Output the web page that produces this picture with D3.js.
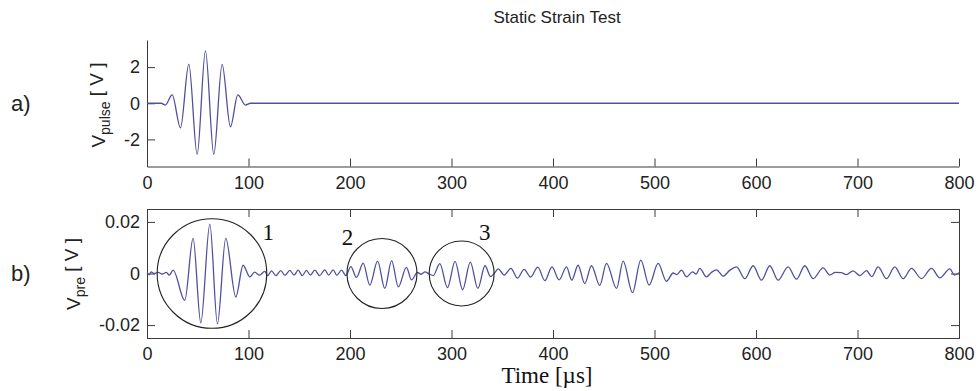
<!DOCTYPE html>
<html>
<head>
<meta charset="utf-8">
<script src="https://cdn.jsdelivr.net/npm/d3@7"></script>
<style>
  html, body { margin: 0; padding: 0; background: #fff; }
  svg { display: block; }
</style>
</head>
<body>
<div id="chart"></div>
<script>
// values
const timeTicks = [0, 100, 200, 300, 400, 500, 600, 700, 800];
const pulseTicks = [-2, 0, 2];
const preTicks = [-0.02, 0, 0.02];

// a) excitation pulse: extrema of the tone burst, time in µs, volts
const pulseTime = [0, 14, 18, 24.8, 33, 41.2, 49.4, 57.6, 65.8, 74, 82.2, 89.5, 97, 102, 800];
const pulseVolt = [0, 0, -0.1, 0.46, -1.36, 2.17, -2.83, 2.9, -2.83, 2.15, -1.3, 0.46, -0.1, 0, 0];

// b) preamplifier signal: extrema
const preTime = [
  0, 2, 4, 7, 11, 15, 19, 22, 25.7, 37.2, 45.4, 53, 61.9, 69.4, 77.6, 87.5, 94.7, 101.3,
  106, 111, 116, 119, 122.6, 127, 131.8, 136, 140.7, 145, 148.9, 153, 157.1, 161, 165.3,
  170, 175.2, 179, 183.4, 187, 191.6,
  196, 200.8, 206.4, 213, 219.5, 227.2, 234.3, 241, 247.6, 255.6, 260.6, 266.5, 270, 274, 278,
  282, 288.5, 296, 303.5, 311, 318.5, 326, 333, 338.5, 342.6,
  346, 352, 358.5, 365, 371.5, 378, 385, 392, 399, 406,
  413.3, 418.5, 424.7, 431.3, 437.9, 446.1, 452.7, 462.6, 469.1, 478.3, 486.5, 494.7, 503.6, 511.8,
  518.4, 522, 526.6, 531.5, 537.5, 541, 544.6, 551.2, 556, 561.1, 567.6, 574,
  580.8, 589, 597.2, 605.4, 613.6, 621.8, 631.6, 639.9, 648.1, 656.3, 666.1, 672.7,
  678, 684, 689, 695.7, 702.3, 708.9, 714,
  720.3, 728.6, 736.7, 745, 753.2, 763, 772.9, 781.1, 791, 795.5, 800
];
const preVolt = [
  0.0003, -0.0005, 0.0006, 0, 0.0004, -0.0002, 0.0004, -0.0006, 0.0013, -0.0104, 0.0136, -0.0191, 0.0191, -0.0195, 0.0136, -0.0091, 0.0032, -0.0013,
  0.0005, -0.0006, 0.0008, -0.0008, 0.001, -0.0008, 0.0011, -0.0007, 0.0012, -0.0006, 0.0013, -0.0008, 0.0012, -0.0006, 0.0013,
  -0.0008, 0.0014, -0.0006, 0.0014, -0.0007, 0.0013,
  -0.0008, 0.0027, -0.0015, 0.004, -0.0045, 0.0048, -0.0058, 0.005, -0.0052, 0.0024, -0.0025, 0.0004, -0.0003, 0.0006, -0.0002,
  -0.0008, 0.0038, -0.0055, 0.0047, -0.0063, 0.0044, -0.0058, 0.003, -0.0012, 0.0003,
  0.0018, -0.0006, 0.002, -0.0018, 0.0016, -0.0014, 0.0025, -0.0028, 0.0026, -0.0025,
  0.0026, -0.0026, 0.0032, -0.0039, 0.003, -0.0046, 0.0039, -0.0058, 0.0048, -0.0074, 0.0052, -0.0045, 0.0039, -0.003,
  0.0002, -0.0004, 0.0013, -0.0013, 0.0006, -0.0002, 0.002, -0.0013, 0.0004, 0.0014, -0.001, 0.0012,
  0.0026, -0.002, 0.003, -0.0026, 0.003, -0.0026, 0.0026, -0.0022, 0.003, -0.002, 0.0022, -0.0006,
  0.0004, 0.0003, -0.0004, 0.001, -0.0008, 0.0011, -0.0012,
  0.0026, -0.002, 0.0026, -0.002, 0.002, -0.002, 0.002, -0.0017, 0.0018, -0.0006, 0.0003
];

// circled wave packets: time span of each circle (µs) and its label
const circleStart = [10, 197, 278];
const circleEnd = [118, 266, 342];
const circleLabels = ['1', '2', '3'];

const width = 979, height = 391;
const lineColor = '#50509e';
const axisColor = '#3a3a3a';
const sans = 'Liberation Sans, Arial, sans-serif';
const serif = 'Liberation Serif, Times New Roman, serif';

const svg = d3.select('#chart').append('svg')
  .attr('width', width)
  .attr('height', height);

const x = d3.scaleLinear().domain([0, 800]).range([147, 959]);
const yPulse = d3.scaleLinear().domain([-3.5, 3.5]).range([166.5, 40]);
const yPre = d3.scaleLinear().domain([-0.025, 0.025]).range([338, 209]);

function styleAxis(g) {
  g.selectAll('path, line').attr('stroke', axisColor);
  g.selectAll('text')
    .attr('fill', '#222')
    .style('font-family', sans)
    .style('font-size', '18px');
}

// title
svg.append('text')
  .attr('x', (x.range()[0] + x.range()[1]) / 2 + 4)
  .attr('y', 23)
  .attr('text-anchor', 'middle')
  .style('font-family', sans)
  .style('font-size', '17px')
  .attr('fill', '#222')
  .text('Static Strain Test');

// ---- panel a)
const pa = svg.append('g');

pa.append('g')
  .attr('transform', `translate(0,${yPulse.range()[0]})`)
  .call(d3.axisBottom(x).tickValues(timeTicks).tickSizeInner(-8).tickSizeOuter(0).tickPadding(10))
  .call(styleAxis);

pa.append('g')
  .attr('transform', `translate(${x.range()[0]},0)`)
  .call(d3.axisLeft(yPulse).tickValues(pulseTicks).tickSizeInner(-8).tickSizeOuter(0).tickPadding(7)
    .tickFormat(d => String(d)))
  .call(styleAxis);

const pulseLine = d3.line()
  .x((d, i) => x(pulseTime[i]))
  .y(d => yPulse(d))
  .curve(d3.curveMonotoneX);

pa.append('path')
  .datum(pulseVolt)
  .attr('fill', 'none')
  .attr('stroke', lineColor)
  .attr('stroke-width', 1.3)
  .attr('d', pulseLine);

// ---- panel b)
const pb = svg.append('g');

pb.append('rect')
  .attr('x', x.range()[0] + 0.5)
  .attr('y', yPre.range()[1] + 0.5)
  .attr('width', x.range()[1] - x.range()[0])
  .attr('height', yPre.range()[0] - yPre.range()[1])
  .attr('fill', 'none')
  .attr('stroke', axisColor);

pb.append('g')
  .attr('transform', `translate(0,${yPre.range()[0]})`)
  .call(d3.axisBottom(x).tickValues(timeTicks).tickSizeInner(-8).tickSizeOuter(0).tickPadding(9))
  .call(styleAxis);

pb.append('g')
  .attr('transform', `translate(0,${yPre.range()[1]})`)
  .call(d3.axisTop(x).tickValues(timeTicks).tickSizeInner(-8).tickSizeOuter(0).tickFormat(''))
  .call(styleAxis);

pb.append('g')
  .attr('transform', `translate(${x.range()[0]},0)`)
  .call(d3.axisLeft(yPre).tickValues(preTicks).tickSizeInner(-8).tickSizeOuter(0).tickPadding(7)
    .tickFormat(d => String(d)))
  .call(styleAxis);

pb.append('g')
  .attr('transform', `translate(${x.range()[1]},0)`)
  .call(d3.axisRight(yPre).tickValues(preTicks).tickSizeInner(-8).tickSizeOuter(0).tickFormat(''))
  .call(styleAxis);

const preLine = d3.line()
  .x((d, i) => x(preTime[i]))
  .y(d => yPre(d))
  .curve(d3.curveMonotoneX);

pb.append('path')
  .datum(preVolt)
  .attr('fill', 'none')
  .attr('stroke', lineColor)
  .attr('stroke-width', 1.3)
  .attr('d', preLine);

// circles round the wave packets, label just outside each one
const labelAngle = [-0.63, -2.33, -1.06];
circleLabels.forEach((lab, i) => {
  const cx = (x(circleStart[i]) + x(circleEnd[i])) / 2;
  const r = (x(circleEnd[i]) - x(circleStart[i])) / 2;
  pb.append('circle')
    .attr('cx', cx)
    .attr('cy', yPre(0))
    .attr('r', r)
    .attr('fill', 'none')
    .attr('stroke', '#222')
    .attr('stroke-width', 1.1);
  pb.append('text')
    .attr('x', cx + Math.cos(labelAngle[i]) * (r + 15))
    .attr('y', yPre(0) + Math.sin(labelAngle[i]) * (r + 15) + 8)
    .attr('text-anchor', 'middle')
    .style('font-family', serif)
    .style('font-size', '23px')
    .attr('fill', '#111')
    .text(lab);
});

// panel letters
svg.append('text').attr('x', 11).attr('y', 111)
  .style('font-family', sans).style('font-size', '22px').attr('fill', '#222').text('a)');
svg.append('text').attr('x', 11).attr('y', 281)
  .style('font-family', sans).style('font-size', '22px').attr('fill', '#222').text('b)');

// y axis labels
function yLabel(cx, cy, sub) {
  const t = svg.append('text')
    .attr('transform', `translate(${cx},${cy}) rotate(-90)`)
    .attr('text-anchor', 'middle')
    .style('font-family', sans)
    .style('font-size', '19px')
    .attr('fill', '#222');
  t.append('tspan').text('V');
  t.append('tspan').attr('dy', '0.35em').style('font-size', '14px').text(sub);
  t.append('tspan').attr('dy', '-0.35em').text(' [ V ]');
}
yLabel(105, 105, 'pulse');
yLabel(80, 274, 'pre');

// x axis label
svg.append('text')
  .attr('x', (x.range()[0] + x.range()[1]) / 2 - 6)
  .attr('y', 383)
  .attr('text-anchor', 'middle')
  .style('font-family', serif)
  .style('font-size', '23px')
  .attr('fill', '#111')
  .text('Time [µs]');
</script>
</body>
</html>
